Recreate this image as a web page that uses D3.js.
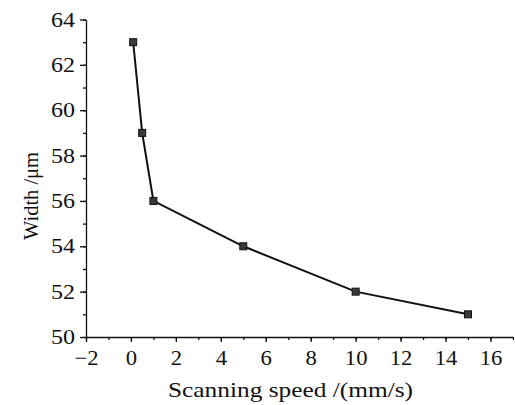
<!DOCTYPE html>
<html>
<head>
<meta charset="utf-8">
<script src="https://cdn.jsdelivr.net/npm/d3@7"></script>
<style>
  body { margin: 0; background: #fff; }
  svg text { font-family: "Liberation Serif", "DejaVu Serif", serif !important; fill: #111; }
</style>
</head>
<body>
<svg id="chart" width="515" height="405"></svg>
<script>
// scanning speed (mm/s) vs line width (um)
var speeds = [0.1, 0.5, 1, 5, 10, 15];
var widths = [63, 59, 56, 54, 52, 51];
var xTicks = [-2, 0, 2, 4, 6, 8, 10, 12, 14, 16];
var yTicks = [50, 52, 54, 56, 58, 60, 62, 64];

var svg = d3.select('#chart'),
    margin = { top: 19.5, left: 86, right: 3, bottom: 68 },
    width = 515 - margin.left - margin.right,
    height = 405 - margin.top - margin.bottom;

var x = d3.scaleLinear().domain([-2, 17]).range([0, 22.47 * 19]);
var y = d3.scaleLinear().domain([50, 64]).range([height, 0]);

var g = svg.append('g')
    .attr('transform', 'translate(' + margin.left + ',' + margin.top + ')');

// minor ticks first, then major ones on top
g.append('g')
    .attr('transform', 'translate(0,' + height + ')')
    .call(d3.axisBottom(x).tickValues(d3.range(-2, 18, 1)).tickSize(3).tickFormat(''))
    .call(a => a.select('.domain').remove());
var xAxis = g.append('g')
    .attr('transform', 'translate(0,' + height + ')')
    .call(d3.axisBottom(x).tickValues(xTicks).tickSize(5).tickSizeOuter(0)
        .tickFormat(d => d < 0 ? '\u2212' + Math.abs(d) : d));

g.append('g')
    .call(d3.axisLeft(y).tickValues(d3.range(50, 65, 1)).tickSize(3).tickFormat(''))
    .call(a => a.select('.domain').remove());
var yAxis = g.append('g')
    .call(d3.axisLeft(y).tickValues(yTicks).tickSize(6).tickSizeOuter(0));

g.selectAll('g').attr('font-family', null);
g.selectAll('.domain, .tick line').attr('stroke', '#111').attr('stroke-width', 1.3);

// the original type is a slightly wide Times, so stretch the labels a little
var sx = 1.08, sy = 1.2;
xAxis.selectAll('text')
    .attr('font-size', 21)
    .attr('y', 28).attr('dy', 0)
    .attr('transform', 'scale(' + sx + ',1)');
yAxis.selectAll('text')
    .attr('font-size', 20)
    .attr('x', -11 / sy)
    .attr('dy', '0.33em')
    .attr('transform', 'scale(' + sy + ',1)');

var line = d3.line()
    .x((d, i) => x(speeds[i]))
    .y(d => y(d));

g.append('path')
    .datum(widths)
    .attr('fill', 'none')
    .attr('stroke', '#111')
    .attr('stroke-width', 2)
    .attr('d', line);

g.selectAll('rect.pt')
    .data(widths)
    .enter().append('rect')
    .attr('class', 'pt')
    .attr('x', (d, i) => x(speeds[i]) - 3.5)
    .attr('y', d => y(d) - 3.5)
    .attr('width', 7)
    .attr('height', 7)
    .attr('fill', '#3a3a3a')
    .attr('stroke', '#111')
    .attr('stroke-width', 1);

svg.append('text')
    .attr('x', 168)
    .attr('y', 397)
    .attr('font-size', 21)
    .attr('textLength', 245)
    .attr('lengthAdjust', 'spacingAndGlyphs')
    .text('Scanning speed /(mm/s)');

svg.append('text')
    .attr('transform', 'translate(38,240) rotate(-90)')
    .attr('font-size', 21)
    .attr('textLength', 88)
    .attr('lengthAdjust', 'spacingAndGlyphs')
    .text('Width /\u03bcm');
</script>
</body>
</html>
